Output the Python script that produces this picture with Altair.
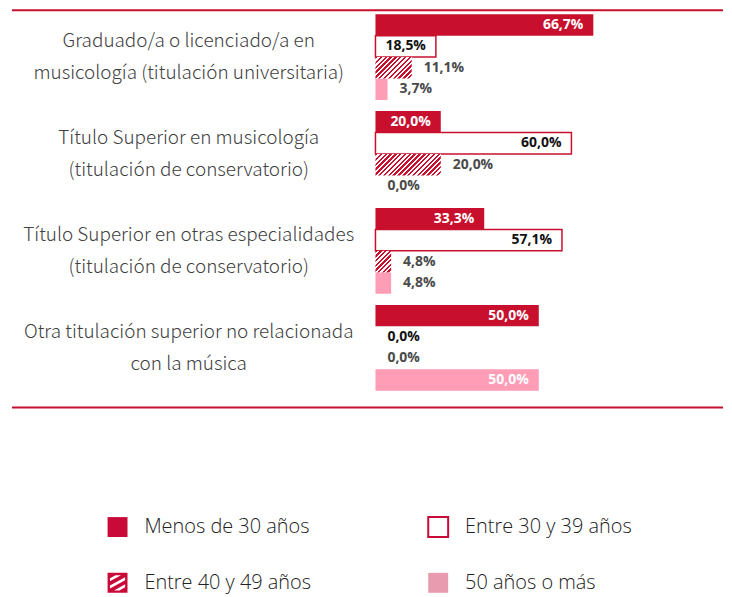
import math
import altair as alt
import pandas as pd

# ---------------- data ----------------
categories = [
    "Graduado/a o licenciado/a en|musicología (titulación universitaria)",
    "Título Superior en musicología|(titulación de conservatorio)",
    "Título Superior en otras especialidades|(titulación de conservatorio)",
    "Otra titulación superior no relacionada|con la música",
]
ages = ["Menos de 30 años", "Entre 30 y 39 años", "Entre 40 y 49 años", "50 años o más"]
menos_30 = [66.7, 20.0, 33.3, 50.0]
entre_30_39 = [18.5, 60.0, 57.1, 0.0]
entre_40_49 = [11.1, 20.0, 4.8, 0.0]
mas_50 = [3.7, 0.0, 4.8, 50.0]

series = [menos_30, entre_30_39, entre_40_49, mas_50]
rows = []
for ci, cat in enumerate(categories):
    for ai, age in enumerate(ages):
        rows.append({"cat": cat, "age": age, "v": series[ai][ci]})
df = pd.DataFrame(rows)

# ---------------- style ----------------
RED = "#C8102E"
PINK = "#FF9DB6"
PINK_L = "#E89AAE"
LEG_RED = "#C90A38"
W, H = 328, 378
PAD_INNER = 0.115
step = H / (4 - PAD_INNER)
sub_h = step * (1 - PAD_INNER) / 4
E30, E40, P50 = ages[1], ages[2], ages[3]

x_enc = alt.X("v:Q", scale=alt.Scale(domain=[0, 100], nice=False, zero=True), axis=None)
y_enc = alt.Y(
    "cat:N",
    sort=categories,
    scale=alt.Scale(domain=categories, paddingInner=PAD_INNER, paddingOuter=0),
    axis=alt.Axis(
        title=None, domain=False, ticks=False, tickSize=0, labelPadding=188,
        labelAlign="center", labelBaseline="middle", labelExpr="split(datum.label, '|')",
        labelFont="Noto Sans CJK JP", labelFontSize=19, labelFontWeight=300,
        labelColor="#404040", labelLineHeight=32, labelOffset=-16, labelLimit=0,
        labelOverlap=False,
    ),
)
yo_enc = alt.YOffset("age:N", sort=ages, scale=alt.Scale(domain=ages, paddingInner=0, paddingOuter=0))

base = alt.Chart(df).encode(x=x_enc, y=y_enc, yOffset=yo_enc)

bars = base.transform_filter(alt.datum.v > 0).mark_bar(strokeWidth=1.5).encode(
    fill=alt.Fill("age:N", scale=alt.Scale(domain=ages, range=[RED, "white", "transparent", PINK]), legend=None),
    stroke=alt.when(alt.datum.age == E30).then(alt.value(RED)).otherwise(alt.value("transparent")),
)

# hatched bars (diagonal stripes via hard-stop gradients, 45 degrees)
hatch_layers = []
for cat, v in zip(categories, entre_40_49):
    if v <= 0:
        continue
    bw = v / 100 * W
    r = bw / sub_h
    b = (r + 1) / (r * r + 1)
    a = r * b
    n = max(1, round((bw + sub_h) / (math.sqrt(2) * 3.4)))
    stops = []
    for k in range(n):
        stops += [
            alt.GradientStop(color=RED, offset=k / n),
            alt.GradientStop(color=RED, offset=(k + 0.5) / n),
            alt.GradientStop(color="white", offset=(k + 0.5) / n),
            alt.GradientStop(color="white", offset=(k + 1) / n),
        ]
    grad = alt.LinearGradient(gradient="linear", stops=stops, x1=0, y1=0, x2=a, y2=b)
    hatch_layers.append(
        base.transform_filter((alt.datum.cat == cat) & (alt.datum.age == E40)).mark_bar(fill=grad)
    )

lbl = base.transform_calculate(lbl="replace(format(datum.v, '.1f'), '.', ',') + '%'")
inside = "datum.v >= 15 && datum.age != '%s'" % E40
txt_kw = dict(font="Open Sans", fontSize=14, fontWeight="bold", baseline="middle")
t_in = lbl.transform_filter(inside).mark_text(align="right", dx=-10, **txt_kw).encode(
    text="lbl:N",
    color=alt.when(alt.datum.age == E30).then(alt.value("#111111")).otherwise(alt.value("#ffffff")),
)
t_out = lbl.transform_filter("!(%s)" % inside).mark_text(align="left", dx=12, **txt_kw).encode(
    text="lbl:N",
    color=alt.when(alt.datum.age == E30).then(alt.value("#111111")).otherwise(alt.value("#4a4a4a")),
)

rule_df = pd.DataFrame({"r": [0]})
rule_top = alt.Chart(rule_df).mark_rule(color=RED, strokeWidth=2).encode(
    x=alt.value(-365), x2=alt.value(349), y=alt.value(-4))
rule_bot = alt.Chart(rule_df).mark_rule(color=RED, strokeWidth=2).encode(
    x=alt.value(-365), x2=alt.value(349), y=alt.value(395))


# legend hatch symbol: square with diagonal stripe holes
def clip(poly, k):
    def clip_axis(pts, idx, lim, keep_ge):
        out = []
        m = len(pts)
        for i in range(m):
            p, q = pts[i], pts[(i + 1) % m]
            pin = p[idx] >= lim if keep_ge else p[idx] <= lim
            qin = q[idx] >= lim if keep_ge else q[idx] <= lim
            if pin:
                out.append(p)
            if pin != qin:
                t = (lim - p[idx]) / (q[idx] - p[idx])
                out.append((p[0] + t * (q[0] - p[0]), p[1] + t * (q[1] - p[1])))
        return out
    for idx, lim, ge in [(0, -k, True), (0, k, False), (1, -k, True), (1, k, False)]:
        poly = clip_axis(poly, idx, lim, ge)
        if not poly:
            break
    return poly


def area(pts):
    s = 0
    for i in range(len(pts)):
        x0, y0 = pts[i]
        x1, y1 = pts[(i + 1) % len(pts)]
        s += x0 * y1 - x1 * y0
    return s / 2


m_sl, w_st, k_in = 0.55, 0.15, 0.76
path = "M-1,-1L1,-1L1,1L-1,1Z"
for c in [-0.72, 0.0, 0.72]:
    strip = [(-2, 2 * m_sl + c - w_st), (2, -2 * m_sl + c - w_st), (2, -2 * m_sl + c + w_st), (-2, 2 * m_sl + c + w_st)]
    poly = clip(strip, k_in)
    if len(poly) < 3:
        continue
    if area(poly) > 0:
        poly = poly[::-1]
    path += "M" + "L".join("%.3f,%.3f" % p for p in poly) + "Z"

# legend fills column by column: order entries so rows read as in the original
leg_order = [ages[0], ages[2], ages[1], ages[3]]
leg_fill = {ages[0]: LEG_RED, ages[1]: "white", ages[2]: LEG_RED, ages[3]: PINK_L}
leg_stroke = {ages[0]: "transparent", ages[1]: LEG_RED, ages[2]: "transparent", ages[3]: "transparent"}
leg_shape = {ages[0]: "square", ages[1]: "square", ages[2]: path, ages[3]: "square"}

leg = alt.Legend(
    title=None, orient="none", legendX=-270, legendY=504, columns=2, columnPadding=113,
    rowPadding=28, symbolSize=400, symbolStrokeWidth=2, labelFont="Open Sans",
    labelFontSize=20, labelFontWeight=300, labelColor="#222222", labelOffset=16,
    labelLimit=0, padding=0,
)
legend_layer = alt.Chart(df).transform_filter("false").mark_point(filled=True, opacity=1).encode(
    fill=alt.Fill("age:N", scale=alt.Scale(domain=leg_order, range=[leg_fill[a] for a in leg_order]), legend=leg),
    stroke=alt.Stroke("age:N", scale=alt.Scale(domain=leg_order, range=[leg_stroke[a] for a in leg_order]), legend=leg),
    shape=alt.Shape("age:N", scale=alt.Scale(domain=leg_order, range=[leg_shape[a] for a in leg_order]), legend=leg),
)

chart = (
    alt.layer(bars, *hatch_layers, t_in, t_out, rule_top, rule_bot, legend_layer)
    .resolve_scale(fill="independent", stroke="independent", shape="independent")
    .properties(
        width=W, height=H,
        padding={"left": 369, "top": 5, "right": 22, "bottom": 206},
        autosize=alt.AutoSizeParams(type="none"),
        background="white",
    )
    .configure_view(stroke=None)
)

chart.save("out.html", embed_options={"renderer": "svg", "actions": False})
